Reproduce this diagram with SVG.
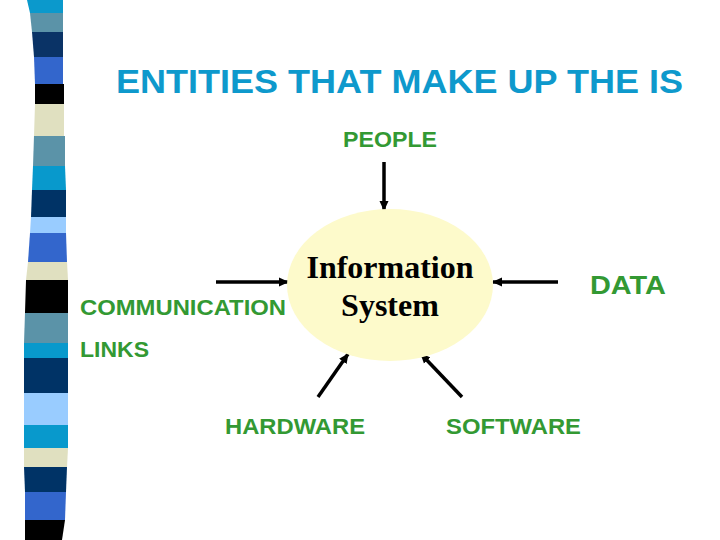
<svg xmlns="http://www.w3.org/2000/svg" width="720" height="540" viewBox="0 0 720 540">
<style>
.lbl{font-family:"Liberation Sans",Arial,sans-serif;font-weight:bold;fill:#339933;font-size:22px}
.title{font-family:"Liberation Sans",Arial,sans-serif;font-weight:bold;fill:#0E99CC;font-size:33px}
.node{font-family:"Liberation Serif","Times New Roman",serif;font-weight:bold;fill:#000;font-size:32px}
.conn{stroke:#000;stroke-width:3.5;fill:none;marker-end:url(#ah)}
</style>
<defs>
<marker id="ah" markerUnits="userSpaceOnUse" markerWidth="10" markerHeight="10" viewBox="0 0 10 10" refX="9" refY="5" orient="auto">
<path d="M0,0.5 L10,5 L0,9.5 Z" fill="#000"/>
</marker>
</defs>
<rect width="720" height="540" fill="#fff"/>
<g id="stripe">
<polygon points="27,0 63,0 63,13 30,13" fill="#0B99CC"/>
<polygon points="30,13 63,13 63,32 32,32" fill="#5B93A8"/>
<polygon points="32,32 63,32 63,57 34,57" fill="#0A3366"/>
<polygon points="34,57 63,57 63,84 35,84" fill="#3366CC"/>
<polygon points="35,84 64,84 64,104 35,104" fill="#000"/>
<polygon points="35,104 64,104 64,136 34,136" fill="#E0E0C0"/>
<polygon points="34,136 65,136 65,166 33,166" fill="#5B93A8"/>
<polygon points="33,166 65,166 66,190 32,190" fill="#0899CC"/>
<polygon points="32,190 66,190 66,217 31,217" fill="#003366"/>
<polygon points="31,217 66,217 66,233 30,233" fill="#99CCFF"/>
<polygon points="30,233 66,233 67,262 28,262" fill="#3366CC"/>
<polygon points="28,262 67,262 68,280 26,280" fill="#E0E0C0"/>
<polygon points="26,280 68,280 68,313 25,313" fill="#000"/>
<polygon points="25,313 68,313 68,343 24,343" fill="#5B93A8"/>
<polygon points="24,343 68,343 68,358 24,358" fill="#0899CC"/>
<polygon points="24,358 68,358 68,393 24,393" fill="#003366"/>
<polygon points="24,393 68,393 68,425 24,425" fill="#99CCFF"/>
<polygon points="24,425 68,425 68,448 24,448" fill="#0899CC"/>
<polygon points="24,448 68,448 67,467 24,467" fill="#E0E0C0"/>
<polygon points="24,467 67,467 66,492 25,492" fill="#003366"/>
<polygon points="25,492 66,492 65,520 25,520" fill="#3366CC"/>
<polygon points="25,520 65,520 62,540 25,540" fill="#000"/>
</g>
<text class="title" x="116" y="93" textLength="567" lengthAdjust="spacingAndGlyphs">ENTITIES THAT MAKE UP THE IS</text>
<g id="connectors">
<line class="conn" x1="384" y1="162" x2="384" y2="210"/>
<line class="conn" x1="216" y1="282" x2="288" y2="282"/>
<line class="conn" x1="558" y1="282" x2="493" y2="282"/>
<line class="conn" x1="318" y1="397" x2="348" y2="354"/>
<line class="conn" x1="462" y1="397" x2="421" y2="354"/>
</g>
<g id="is">
<ellipse cx="390" cy="285" rx="103" ry="76" fill="#FDFACB"/>
<text class="node" x="390" y="278" text-anchor="middle">Information</text>
<text class="node" x="390" y="316" text-anchor="middle">System</text>
</g>
<g id="people"><text class="lbl" x="343" y="147" textLength="94" lengthAdjust="spacingAndGlyphs">PEOPLE</text></g>
<g id="comm"><text class="lbl" x="80" y="315" textLength="206" lengthAdjust="spacingAndGlyphs">COMMUNICATION</text>
<text class="lbl" x="80" y="357" textLength="69" lengthAdjust="spacingAndGlyphs">LINKS</text></g>
<g id="data"><text class="lbl" x="590" y="294" style="font-size:25px" textLength="76" lengthAdjust="spacingAndGlyphs">DATA</text></g>
<g id="hardware"><text class="lbl" x="225" y="434" textLength="140" lengthAdjust="spacingAndGlyphs">HARDWARE</text></g>
<g id="software"><text class="lbl" x="446" y="434" textLength="135" lengthAdjust="spacingAndGlyphs">SOFTWARE</text></g>
</svg>
